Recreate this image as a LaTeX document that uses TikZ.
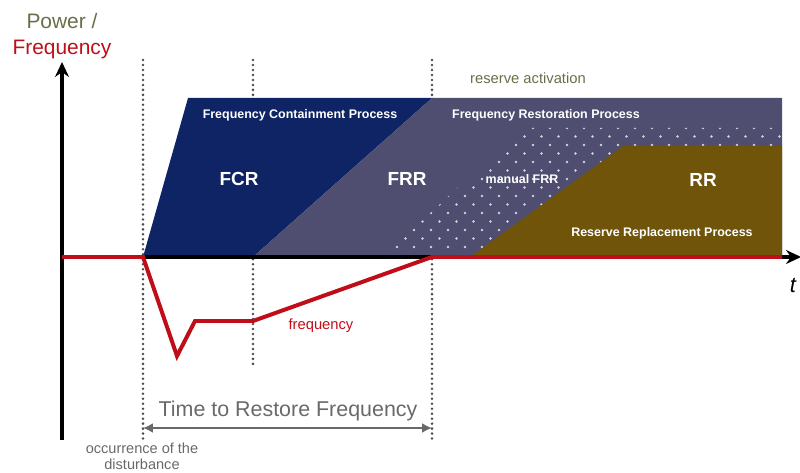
\documentclass[tikz,border=0pt]{standalone}
\usepackage{fontspec}
\setmainfont{Liberation Sans}
\usetikzlibrary{arrows.meta}

\definecolor{fcrblue}{RGB}{14,36,100}
\definecolor{frrgray}{RGB}{80,78,112}
\definecolor{rrbrown}{RGB}{112,84,10}
\definecolor{freqred}{RGB}{192,14,24}
\definecolor{olivetext}{RGB}{106,110,72}
\definecolor{labelgray}{RGB}{105,105,105}

\tikzset{
  boxtext/.style={text=white, anchor=base, inner sep=0pt, font=\bfseries\fontsize{12.5}{14}\selectfont},
  bigtext/.style={text=white, anchor=base, inner sep=0pt, font=\bfseries\fontsize{19}{22}\selectfont},
  plaintext/.style={anchor=base, inner sep=0pt},
  guideline/.style={black!70, line width=2.8pt, dash pattern=on 0pt off 5pt, line cap=round},
}

\begin{document}
\begin{tikzpicture}[x=1bp,y=-1bp]
\useasboundingbox (0,0) rectangle (800,473);
\def\xo{62};
\def\xa{143};
\def\xb{253};
\def\xc{432};
\def\xe{782};

\def\yaxis{257};
\def\ytop{98};
\def\yrr{146};
\def\ylow{321};

% guide lines
\draw[guideline] (\xa,60) -- (\xa,440);
\draw[guideline] (\xb,60) -- (\xb,368);
\draw[guideline] (\xc,60) -- (\xc,440);

% reserves
\fill[fcrblue] (\xa,\yaxis) -- (188,\ytop) -- (\xc,\ytop) -- (\xb,\yaxis) -- cycle;
\fill[frrgray] (\xb,\yaxis) -- (\xc,\ytop) -- (\xe,\ytop) -- (\xe,\yaxis) -- cycle;
\begin{scope}
\clip (383,\yaxis) -- (522,128) -- (\xe,128) -- (\xe,\yaxis) -- cycle;
\foreach \j [evaluate=\j as \off using {mod(\j,2)*8.5}] in {0,...,14}
  \foreach \i in {0,...,24}
    \fill[white!75!frrgray] (380+\off+\i*17, 247-\j*8.5) circle (1.3bp);
\end{scope}
\fill[rrbrown] (470,\yaxis) -- (623,\yrr) -- (\xe,\yrr) -- (\xe,\yaxis) -- cycle;

\node[boxtext] (fcp) at (300,119) {Frequency Containment Process};
\node[boxtext] (frp) at (546,119) {Frequency Restoration Process};
\node[bigtext] (fcr) at (239,186) {FCR};
\node[bigtext] (frr) at (407,186) {FRR};
\node[boxtext] (mfrr) at (522,184) {manual FRR};
\node[bigtext] (rr) at (703,187) {RR};
\node[boxtext] (rrp) at (662,237) {Reserve Replacement Process};

% axes
\coordinate (o) at (\xo,440);
\coordinate (ytip) at (\xo,62);
\coordinate (x0) at (\xo,\yaxis);
\coordinate (xtip) at (801,\yaxis);
\draw[line width=3.2pt, -{Stealth[length=15pt,width=14pt]}] (o) -- (ytip);
\draw[line width=3.2pt, -{Stealth[length=15pt,width=14pt]}] (x0) -- (xtip);

% frequency
\coordinate (f1) at (\xa,\yaxis);
\coordinate (f2) at (177,356);
\coordinate (f3) at (195,\ylow);
\coordinate (f4) at (\xb,\ylow);
\coordinate (f5) at (\xc,\yaxis);
\coordinate (f6) at (\xe,\yaxis);
\draw[freqred, line width=4pt] (x0) -- (f1) -- (f2) -- (f3) -- (f4) -- (f5) -- (f6);

% time to restore
\coordinate (ta) at (\xa,428);
\coordinate (tb) at (\xc,428);
\draw[labelgray, line width=2.5pt, {Latex[length=10pt,width=10pt]}-{Latex[length=10pt,width=10pt]}] (ta) -- (tb);

\node[plaintext, text=olivetext, font=\fontsize{21}{24}\selectfont] (pow) at (62,29) {Power /};
\node[plaintext, text=freqred, font=\fontsize{21}{24}\selectfont] (fq) at (62,55) {Frequency};
\node[plaintext, font=\itshape\fontsize{22}{24}\selectfont] (t) at (793,293) {t};
\node[plaintext, text=olivetext, font=\fontsize{14.8}{17}\selectfont] (act) at (528,84) {reserve activation};
\node[plaintext, text=freqred, font=\fontsize{14.8}{17}\selectfont] (fl) at (321,330) {frequency};
\node[plaintext, text=labelgray, font=\fontsize{21.5}{24}\selectfont] (ttr) at (288,416) {Time to Restore Frequency};
\node[plaintext, text=labelgray, font=\fontsize{14.6}{17}\selectfont] (occ) at (142,453) {occurrence of the};
\node[plaintext, text=labelgray, font=\fontsize{14.6}{17}\selectfont] (dist) at (142,469) {disturbance};

\end{tikzpicture}
\end{document}
